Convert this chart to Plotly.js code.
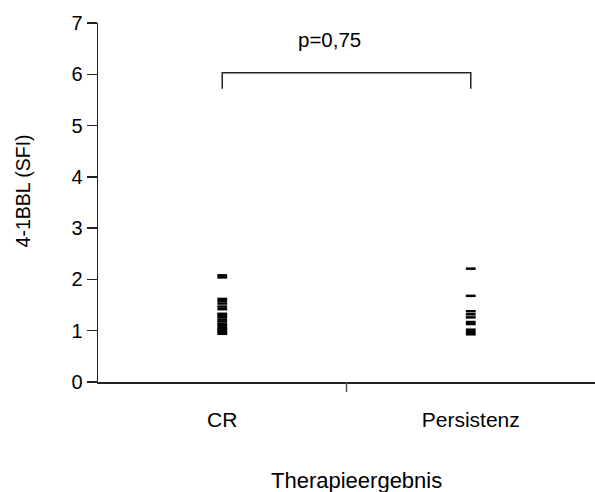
<!DOCTYPE html>
<html>
<head>
<meta charset="utf-8">
<script src="https://cdn.plot.ly/plotly-3.0.1.min.js"></script>
<style>html,body{margin:0;padding:0;background:#fff;}#chart{width:595px;height:492px;}</style>
</head>
<body>
<div id="chart"></div>
<script>
var categories = ["CR", "Persistenz"];
var crValues = [2.08, 2.04, 1.62, 1.58, 1.53, 1.47, 1.42, 1.33, 1.30, 1.27, 1.22, 1.18, 1.13, 1.10, 1.06, 1.03, 1.00, 0.97, 0.94];
var persValues = [2.21, 1.68, 1.38, 1.32, 1.26, 1.17, 1.13, 1.02, 0.97, 0.93];
var yTickVals = [0, 1, 2, 3, 4, 5, 6, 7];
var pLabel = "p=0,75";
var yTitle = "4-1BBL (SFI)";
var xTitle = "Therapieergebnis";

var font = "Liberation Sans, Arial, sans-serif";
var marker = {symbol: "line-ew", size: 7, color: "#000", line: {color: "#000", width: 2.5}};

var traces = [
  {type: "scatter", mode: "markers", x: crValues.map(function(){return categories[0];}), y: crValues, marker: marker, hoverinfo: "y", showlegend: false},
  {type: "scatter", mode: "markers", x: persValues.map(function(){return categories[1];}), y: persValues, marker: marker, hoverinfo: "y", showlegend: false}
];

var layout = {
  width: 595, height: 492,
  margin: {l: 98, r: 0, t: 23, b: 110},
  paper_bgcolor: "#fff", plot_bgcolor: "#fff",
  font: {family: font, size: 20, color: "#000"},
  showlegend: false,
  xaxis: {
    type: "category", categoryorder: "array", categoryarray: categories,
    range: [-0.5, 1.5], showgrid: false, zeroline: false,
    showline: true, linecolor: "#222", linewidth: 1.5,
    ticks: "", ticklabelstandoff: 18,
    tickfont: {family: font, size: 21, color: "#000"}
  },
  yaxis: {
    range: [0, 7], tickvals: yTickVals, showgrid: false, zeroline: false,
    showline: true, linecolor: "#222", linewidth: 1.5,
    ticks: "outside", ticklen: 10, tickwidth: 1.5, tickcolor: "#222",
    tickfont: {family: font, size: 20, color: "#000"}
  },
  shapes: [
    {type: "path", xref: "x", yref: "y", path: "M 0,5.72 L 0,6.03 L 1,6.03 L 1,5.72", line: {color: "#222", width: 1.5}},
    {type: "line", xref: "x", yref: "paper", x0: 0.5, x1: 0.5, y0: 0, y1: -0.028, line: {color: "#555", width: 1.5}}
  ],
  annotations: [
    {text: pLabel, xref: "x", yref: "y", x: 0.43, y: 6.67, showarrow: false, font: {family: font, size: 20.5, color: "#000"}},
    {text: yTitle, xref: "paper", yref: "paper", x: -0.15, y: 0.532, xanchor: "center", yanchor: "middle", textangle: -90, showarrow: false, font: {family: font, size: 19.5, color: "#000"}},
    {text: xTitle, xref: "paper", yref: "paper", x: 0.521, y: -0.274, xanchor: "center", yanchor: "middle", showarrow: false, font: {family: font, size: 22, color: "#000"}}
  ]
};

Plotly.newPlot("chart", traces, layout, {displayModeBar: false, staticPlot: true});
</script>
</body>
</html>
